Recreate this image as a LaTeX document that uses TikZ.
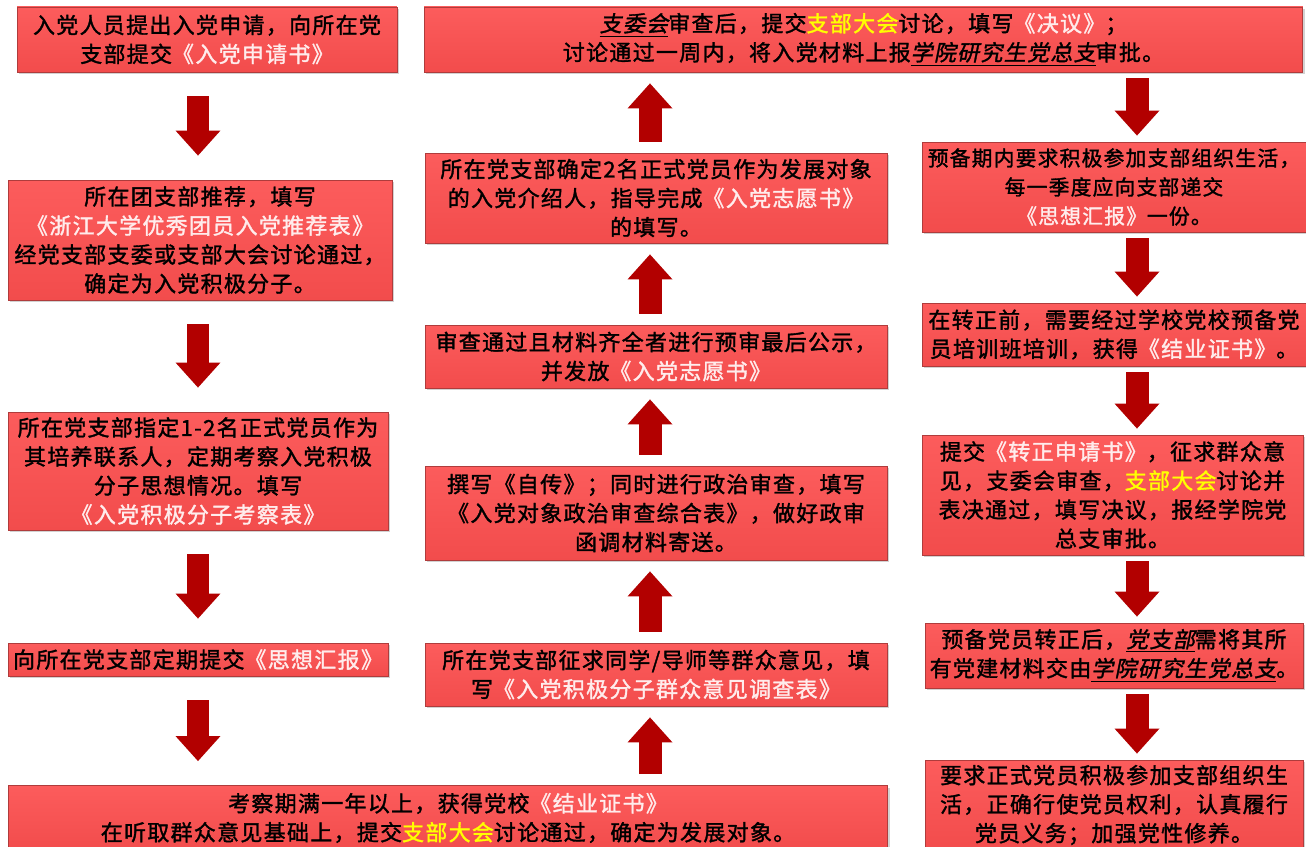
\documentclass[tikz,border=0pt]{standalone}
\usepackage{fontspec}
\newfontfamily\cjk[FakeBold=1.5,LetterSpace=6]{Noto Sans CJK SC}
\newfontfamily\cjkit[FakeBold=1.5,FakeSlant=0.2,LetterSpace=6]{Noto Sans CJK SC}
\usetikzlibrary{arrows.meta,shadows}
\definecolor{boxred}{RGB}{242,76,76}
\definecolor{boxtop}{RGB}{252,92,92}
\definecolor{boxedge}{RGB}{175,60,60}
\definecolor{arrowred}{RGB}{178,0,0}
\definecolor{titlewhite}{RGB}{255,236,236}
\definecolor{meetyellow}{RGB}{255,255,0}
\newcommand\bookname[1]{\textcolor{titlewhite}{#1}}
\newcommand\meeting[1]{\textcolor{meetyellow}{#1}}
\newcommand\unitname[1]{\underline{{\cjkit #1}}}
\begin{document}
\begin{tikzpicture}[x=0.02cm,y=-0.02cm,
  stepbox/.style={draw=boxedge,line width=0.5pt,top color=boxtop,bottom color=boxred,
    drop shadow={shadow xshift=1.2pt,shadow yshift=-1.2pt,opacity=0.35},
    align=center,inner sep=1pt,font=\cjk\fontsize{12.5}{16.5}\selectfont},
  flow/.style={draw=arrowred,line width=0.46cm,-{Triangle[width=0.9cm,length=0.5cm,line width=0pt]}}]
\useasboundingbox[fill=white] (0,0) rectangle (1306,847);
\coordinate (lcol) at (198,0);
\coordinate (mcol) at (650,0);
\coordinate (rcol) at (1137,0);
\node[stepbox,minimum width=7.6cm,minimum height=1.3cm] (apply) at (207,39.5)
  {入党人员提出入党申请，向所在党\\支部提交\bookname{《入党申请书》}};
\node[stepbox,minimum width=17.58cm,minimum height=1.3cm] (review) at (863.5,39.5)
  {\unitname{支委会}审查后，提交\meeting{支部大会}讨论，填写\bookname{《决议》}；\\
   讨论通过一周内，将入党材料上报\unitname{学院研究生党总支}审批。};
\node[stepbox,minimum width=7.68cm,minimum height=2.4cm] (recommend) at (200,240)
  {所在团支部推荐，填写\\\bookname{《浙江大学优秀团员入党推荐表》}\\经党支部支委或支部大会讨论通过，\\确定为入党积极分子。};
\node[stepbox,minimum width=7.6cm,minimum height=2.36cm] (observe) at (198,471)
  {所在党支部指定1-2名正式党员作为\\其培养联系人，定期考察入党积极\\分子思想情况。填写\\\bookname{《入党积极分子考察表》}};
\node[stepbox,minimum width=7.6cm,minimum height=0.66cm] (report) at (198,659.5)
  {向所在党支部定期提交\bookname{《思想汇报》}};
\node[stepbox,minimum width=17.6cm,minimum height=1.3cm] (develop) at (448,818)
  {考察期满一年以上，获得党校\bookname{《结业证书》}\\
   在听取群众意见基础上，提交\meeting{支部大会}讨论通过，确定为发展对象。};
\node[stepbox,minimum width=9.24cm,minimum height=1.26cm] (opinion) at (656,674.5)
  {所在党支部征求同学/导师等群众意见，填\\写\bookname{《入党积极分子群众意见调查表》}};
\node[stepbox,minimum width=9.24cm,minimum height=1.88cm] (audit) at (656,513)
  {撰写《自传》；同时进行政治审查，填写\\《入党对象政治审查综合表》，做好政审\\函调材料寄送。};
\node[stepbox,minimum width=9.24cm,minimum height=1.26cm] (publicity) at (656,356.5)
  {审查通过且材料齐全者进行预审最后公示，\\并发放\bookname{《入党志愿书》}};
\node[stepbox,minimum width=9.24cm,minimum height=1.8cm] (introducer) at (656,198)
  {所在党支部确定2名正式党员作为发展对象\\的入党介绍人，指导完成\bookname{《入党志愿书》}\\的填写。};
\node[stepbox,minimum width=7.68cm,minimum height=1.8cm,font=\cjk\fontsize{11.8}{16.5}\selectfont] (probation) at (1114,187)
  {预备期内要求积极参加支部组织生活，\\每一季度应向支部递交\\\bookname{《思想汇报》}一份。};
\node[stepbox,minimum width=7.68cm,minimum height=1.26cm] (training) at (1114,334.5)
  {在转正前，需要经过学校党校预备党\\员培训班培训，获得\bookname{《结业证书》}。};
\node[stepbox,minimum width=7.62cm,minimum height=2.4cm] (regular) at (1112.5,495)
  {提交\bookname{《转正申请书》}，征求群众意\\见，支委会审查，\meeting{支部大会}讨论并\\表决通过，填写决议，报经学院党\\总支审批。};
\node[stepbox,minimum width=7.56cm,minimum height=1.3cm] (archive) at (1114,655.5)
  {预备党员转正后，\unitname{党支部}需将其所\\有党建材料交由\unitname{学院研究生党总支}。};
\node[stepbox,minimum width=7.56cm,minimum height=1.8cm] (member) at (1114,805)
  {要求正式党员积极参加支部组织生\\活，正确行使党员权利，认真履行\\党员义务；加强党性修养。};
\draw[flow,shorten <=0.48cm,shorten >=0.48cm] (apply.south -| lcol) -- (recommend.north -| lcol);
\draw[flow,shorten <=0.48cm,shorten >=0.48cm] (recommend.south -| lcol) -- (observe.north -| lcol);
\draw[flow,shorten <=0.48cm,shorten >=0.48cm] (observe.south -| lcol) -- (report.north -| lcol);
\draw[flow,shorten <=0.48cm,shorten >=0.48cm] (report.south -| lcol) -- (develop.north -| lcol);
\draw[flow,shorten <=0.22cm,shorten >=0.22cm] (develop.north -| mcol) -- (opinion.south -| mcol);
\draw[flow,shorten <=0.22cm,shorten >=0.22cm] (opinion.north -| mcol) -- (audit.south -| mcol);
\draw[flow,shorten <=0.22cm,shorten >=0.22cm] (audit.north -| mcol) -- (publicity.south -| mcol);
\draw[flow,shorten <=0.22cm,shorten >=0.22cm] (publicity.north -| mcol) -- (introducer.south -| mcol);
\draw[flow,shorten <=0.22cm,shorten >=0.22cm] (introducer.north -| mcol) -- (review.south -| mcol);
\draw[flow,shorten <=0.12cm,shorten >=0.12cm] (review.south -| rcol) -- (probation.north -| rcol);
\draw[flow,shorten <=0.12cm,shorten >=0.12cm] (probation.south -| rcol) -- (training.north -| rcol);
\draw[flow,shorten <=0.12cm,shorten >=0.12cm] (training.south -| rcol) -- (regular.north -| rcol);
\draw[flow,shorten <=0.12cm,shorten >=0.12cm] (regular.south -| rcol) -- (archive.north -| rcol);
\draw[flow,shorten <=0.12cm,shorten >=0.12cm] (archive.south -| rcol) -- (member.north -| rcol);
\end{tikzpicture}
\end{document}
